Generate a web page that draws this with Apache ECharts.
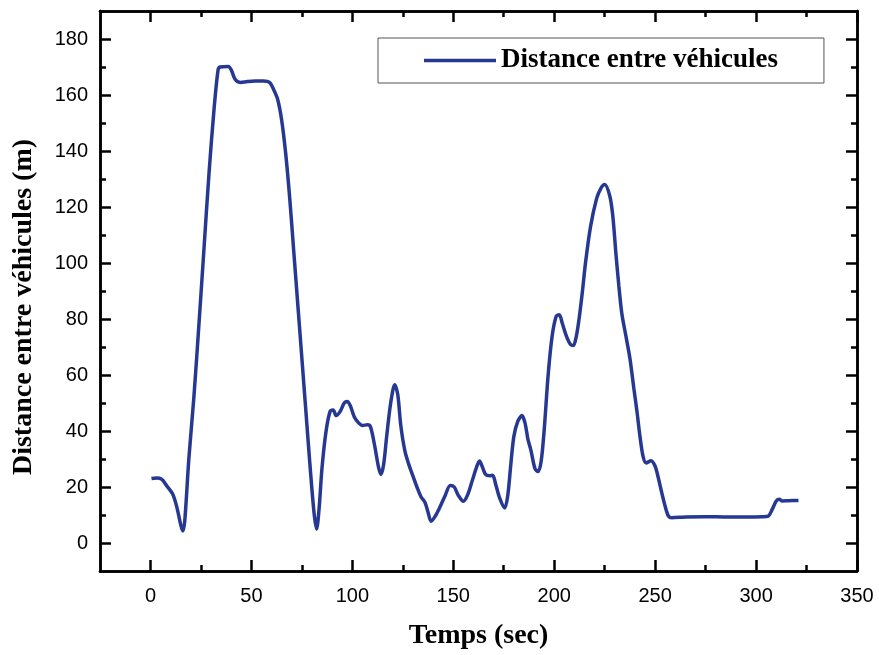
<!DOCTYPE html>
<html>
<head>
<meta charset="utf-8">
<script src="https://cdn.jsdelivr.net/npm/echarts@6/dist/echarts.min.js"></script>
<style>
  html, body { margin: 0; padding: 0; background: #fff; }
  #chart { width: 879px; height: 655px; }
</style>
</head>
<body>
<div id="chart"></div>
<script>
// temps (sec)
const temps = [
  0.5, 3, 5.5, 8, 11, 13, 15, 16, 17, 19, 21.5, 24, 26.5, 29, 31.5, 33.5, 34.5, 38.5, 40, 42,
  44.5, 48, 52, 56, 59, 61, 63, 65, 67, 69, 71, 73, 75, 77, 79, 81, 82.3, 83.5, 85, 87,
  89, 90.5, 92, 94, 96, 97.5, 99, 101, 103, 105, 107.5, 109, 111, 113, 114.2, 115.5, 117, 119, 121, 122.5,
  124, 126, 128, 130, 132, 134, 136, 137.5, 139, 141, 143.5, 146, 148.5, 150.5, 152.5, 155, 157, 159.5, 161.5, 163,
  164.5, 166, 168, 169.5, 171, 173, 175.5, 177, 178.5, 180, 182, 184, 185.5, 187, 188.5, 190.5, 192, 193.5, 195, 197,
  199, 201, 202.5, 204, 206, 208, 209.5, 211, 212.5, 214, 215.5, 218, 221, 223, 225, 227.5, 229, 230.5, 232, 233.5,
  235.5, 237.5, 239.5, 241, 242.5, 244, 245.5, 248, 250, 251.5, 253.3, 255, 256.6, 258.2, 265, 275, 285, 295, 303, 306,
  308, 310, 311.5, 313, 316, 321
];
// distance entre véhicules (m)
const distance = [
  23, 23.2, 22.8, 20.5, 17.5, 13, 6.5, 4.3, 8, 30, 52, 78, 105, 132, 155, 169, 170, 170.2, 169, 165.5,
  164.5, 164.8, 165, 165, 164.5, 162, 158.5, 151, 139, 123, 104, 85, 66, 47, 28, 11, 5, 12, 27, 40,
  47, 47.5, 45.5, 47, 50, 50.5, 49, 45, 43, 42, 42.2, 41.5, 35, 27, 24.5, 28, 38, 50, 56.5, 53,
  42, 33, 28, 24, 20, 16.5, 14.5, 11, 7.8, 9.5, 13, 17, 20.5, 20, 17, 14.9, 17, 22.5, 27, 29.3,
  27, 24.5, 24, 24.2, 21, 16, 12.5, 17, 28, 38, 43.5, 45.5, 43, 37, 33, 26.5, 25.5, 29, 40, 60,
  74, 81, 81.5, 78.5, 74, 71, 70.5, 74, 81, 90, 100, 113, 123, 126.5, 128, 124, 117, 104, 92, 82,
  74, 66, 55, 47, 38, 31, 28.6, 29.4, 27.4, 23.5, 17.9, 13, 9.6, 9, 9.3, 9.4, 9.3, 9.3, 9.4, 9.6,
  12, 15, 15.6, 15, 15.1, 15.2
];
const xMajor = [0, 50, 100, 150, 200, 250, 300, 350];
const xMinor = [25, 75, 125, 175, 225, 275, 325];
const yMajor = [0, 20, 40, 60, 80, 100, 120, 140, 160, 180];
const yMinor = [10, 30, 50, 70, 90, 110, 130, 150, 170];

const points = temps.map((t, i) => [t, distance[i]]);

const lineCol = '#263892';
const labelFont = { color: '#000', fontFamily: 'Liberation Sans', fontSize: 20 };
const titleFont = { fontFamily: 'Liberation Serif', fontWeight: 'bold', fontSize: 28, color: '#000' };

function xAx(pos, ticks, len, opts) {
  return Object.assign({
    type: 'value', min: -25, max: 350, position: pos,
    axisLine: { show: true, onZero: false, lineStyle: { color: '#000', width: 2.5 } },
    axisTick: { show: true, inside: true, length: len, customValues: ticks, lineStyle: { color: '#000', width: 2.5 } },
    axisLabel: { show: false },
    splitLine: { show: false }
  }, opts || {});
}
function yAx(pos, ticks, len, opts) {
  return Object.assign({
    type: 'value', min: -10, max: 190, position: pos,
    axisLine: { show: true, onZero: false, lineStyle: { color: '#000', width: 2.5 } },
    axisTick: { show: true, inside: true, length: len, customValues: ticks, lineStyle: { color: '#000', width: 2.5 } },
    axisLabel: { show: false },
    splitLine: { show: false }
  }, opts || {});
}

const chart = echarts.init(document.getElementById('chart'));
chart.setOption({
  animation: false,
  backgroundColor: '#fff',
  grid: { left: 100, right: 22, top: 11, bottom: 84, outerBoundsMode: 'none', containLabel: false },
  legend: {
    left: 378, top: 38,
    padding: [9, 46, 9, 46],
    borderColor: '#555', borderWidth: 1,
    icon: 'rect',
    itemWidth: 72, itemHeight: 3.5,
    textStyle: { fontFamily: 'Liberation Serif', fontWeight: 'bold', fontSize: 27, color: '#000' },
    data: ['Distance entre véhicules']
  },
  xAxis: [
    xAx('bottom', xMajor, 11, {
      axisLabel: Object.assign({ show: true, margin: 15, customValues: xMajor }, labelFont),
      name: 'Temps (sec)', nameLocation: 'middle', nameGap: 51,
      nameTextStyle: titleFont
    }),
    xAx('bottom', xMinor, 6),
    xAx('top', xMajor, 11),
    xAx('top', xMinor, 6)
  ],
  yAxis: [
    yAx('left', yMajor, 11, {
      axisLabel: Object.assign({ show: true, margin: 12, customValues: yMajor }, labelFont)
    }),
    yAx('left', yMinor, 6),
    yAx('right', yMajor, 11),
    yAx('right', yMinor, 6)
  ],
  graphic: [{
    type: 'text', x: 24, y: 307, rotation: Math.PI / 2,
    style: {
      text: 'Distance entre véhicules (m)',
      font: 'bold 28px "Liberation Serif"',
      fill: '#000', align: 'center', verticalAlign: 'middle'
    }
  }],
  series: [{
    name: 'Distance entre véhicules',
    type: 'line',
    xAxisIndex: 0, yAxisIndex: 0,
    data: points,
    smooth: 0.3,
    symbol: 'none',
    lineStyle: { color: lineCol, width: 3.5 },
    itemStyle: { color: lineCol }
  }]
});
</script>
</body>
</html>
